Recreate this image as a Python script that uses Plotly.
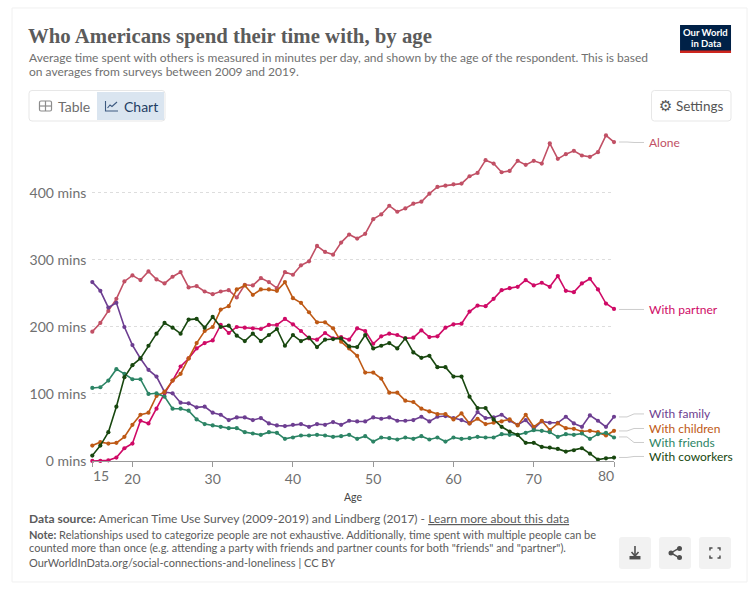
import plotly.graph_objects as go

W = 752
H = 596
STRETCH = 1.0135

ages = list(range(15, 81))
alone = [193, 206, 224, 242, 268, 277, 270, 283, 271, 265,
         275, 282, 259, 261, 253, 249, 253, 255, 244, 263,
         262, 273, 267, 258, 282, 278, 292, 298, 321, 312,
         308, 326, 338, 332, 339, 361, 368, 381, 372, 377,
         384, 387, 399, 409, 411, 413, 414, 425, 430, 449,
         444, 431, 433, 448, 442, 448, 444, 474, 451, 458,
         463, 456, 454, 461, 486, 476]
partner = [0, 0, 1, 5, 19, 26, 60, 56, 78, 101,
           120, 141, 153, 168, 176, 180, 203, 191, 200, 199,
           198, 197, 203, 203, 212, 204, 194, 183, 181, 191,
           183, 185, 181, 198, 194, 175, 186, 190, 188, 183,
           184, 195, 185, 186, 199, 204, 205, 223, 232, 231,
           242, 255, 258, 260, 270, 262, 266, 260, 276, 254,
           252, 265, 272, 256, 235, 227]
family = [267, 254, 229, 236, 200, 173, 153, 136, 126, 103,
          101, 87, 86, 80, 81, 72, 69, 61, 65, 65,
          61, 64, 56, 53, 52, 54, 55, 51, 55, 54,
          58, 54, 60, 59, 59, 65, 63, 65, 60, 60,
          61, 66, 59, 66, 67, 64, 61, 56, 73, 64,
          65, 69, 60, 54, 61, 48, 59, 57, 57, 66,
          56, 51, 68, 60, 51, 66]
children = [23, 28, 26, 27, 36, 54, 69, 72, 97, 103,
            120, 130, 153, 176, 194, 200, 226, 231, 256, 262,
            248, 256, 256, 254, 267, 243, 236, 222, 207, 207,
            198, 178, 168, 157, 132, 132, 123, 102, 102, 90,
            88, 78, 74, 70, 70, 62, 71, 56, 63, 55,
            57, 59, 62, 53, 69, 51, 60, 46, 56, 49,
            48, 44, 45, 43, 38, 45]
friends = [109, 110, 120, 137, 130, 122, 122, 100, 101, 96,
           78, 78, 75, 62, 55, 53, 51, 49, 49, 43,
           41, 39, 43, 42, 33, 35, 38, 38, 39, 38,
           36, 37, 39, 33, 37, 29, 35, 34, 32, 35,
           33, 37, 32, 35, 29, 35, 33, 34, 36, 35,
           35, 40, 39, 39, 42, 46, 45, 43, 36, 40,
           39, 41, 33, 40, 42, 35]
coworkers = [8, 23, 43, 81, 125, 143, 153, 172, 190, 206,
             199, 190, 211, 212, 199, 215, 200, 202, 187, 179,
             190, 179, 188, 197, 172, 188, 179, 184, 170, 181,
             182, 183, 171, 170, 188, 168, 172, 176, 168, 183,
             162, 154, 157, 140, 140, 126, 126, 96, 79, 79,
             62, 51, 44, 39, 27, 27, 21, 20, 18, 14,
             16, 19, 11, 2, 4, 5]

series = [
    ("Alone", alone, "#c15065"),
    ("With partner", partner, "#cf0a66"),
    ("With family", family, "#6d3e91"),
    ("With children", children, "#be5915"),
    ("With friends", friends, "#2c8465"),
    ("With coworkers", coworkers, "#18470f"),
]

y_ticks = [0, 100, 200, 300, 400]
y_labels = ["0 mins", "100 mins", "200 mins", "300 mins", "400 mins"]
x_ticks = [15, 20, 30, 40, 50, 60, 70, 80]
x_labels = ["", "20", "30", "40", "50", "60", "70", ""]

GREY = "#707070"
BODY = "Lato"


# everything outside the plot is placed in page pixels
def px(x):
    return x / W


def py(y):
    return 1 - y * STRETCH / H


def line_path(points):
    return "M " + " L ".join("%.4f %.4f" % (px(x), py(y)) for x, y in points)


def round_box(x0, y0, x1, y1, r=3):
    pts = [(x0 + r, y0), (x1 - r, y0), (x1, y0), (x1, y0 + r), (x1, y1 - r), (x1, y1),
           (x1 - r, y1), (x0 + r, y1), (x0, y1), (x0, y1 - r), (x0, y0 + r), (x0, y0), (x0 + r, y0)]
    p = ["%.4f %.4f" % (px(x), py(y)) for x, y in pts]
    return ("M %s L %s Q %s %s L %s Q %s %s L %s Q %s %s L %s Q %s %s Z"
            % (p[0], p[1], p[2], p[3], p[4], p[5], p[6], p[7], p[8], p[9], p[10], p[11], p[12]))


shapes = []
annotations = []


def add_path(path, color="rgba(0,0,0,0)", line="rgba(0,0,0,0)", width=1):
    shapes.append(dict(type="path", xref="paper", yref="paper", path=path,
                       fillcolor=color, line=dict(color=line, width=width), layer="below"))


def add_text(x, y, text, size, color=GREY, family=BODY, anchor="left"):
    annotations.append(dict(xref="paper", yref="paper", x=px(x), y=py(y), text=text,
                            showarrow=False, xanchor=anchor, yanchor="middle", align=anchor,
                            font=dict(size=size, color=color, family=family),
                            borderpad=0, borderwidth=0))


# outer frame
add_path(line_path([(12, 8), (747, 8), (747, 582), (12, 582)]) + " Z", line="#f0f0f0")

# header
add_text(28, 36, "<b>Who Americans spend their time with, by age</b>", 20.8, "#5b5b5b", "Liberation Serif")
add_text(29, 58, "Average time spent with others is measured in minutes per day, and shown by the age of the respondent. This is based", 12)
add_text(29, 72, "on averages from surveys between 2009 and 2019.", 12)

# logo
add_path(line_path([(680, 25), (731, 25), (731, 53), (680, 53)]) + " Z", color="#002147")
add_path(line_path([(680, 50.5), (731, 50.5), (731, 53), (680, 53)]) + " Z", color="#ce261e")
add_text(705.5, 33, "<b>Our World</b>", 9.5, "#ffffff", anchor="center")
add_text(705.5, 43.5, "<b>in Data</b>", 9.5, "#ffffff", anchor="center")

# table / chart switch
add_path(round_box(29, 90.5, 165, 121), color="#ffffff", line="#e7e7e7")
add_path(line_path([(97, 92), (164, 92), (164, 120), (97, 120)]) + " Z", color="#dae5f0")
add_path(round_box(39.5, 101, 51.5, 111, 1.5), line="#8c8c8c", width=1.2)
add_path(line_path([(39.5, 106), (51.5, 106)]), line="#8c8c8c", width=1.2)
add_path(line_path([(45.5, 101), (45.5, 111)]), line="#8c8c8c", width=1.2)
add_text(58, 106.5, "Table", 14, "#6e6e6e")
add_path(line_path([(105.5, 101), (105.5, 111), (118, 111)]), line="#3d5a80", width=1.1)
add_path(line_path([(107.5, 108), (110, 105), (112, 106.5), (117, 102)]), line="#3d5a80", width=1.1)
add_text(124, 106.5, "Chart", 14, "#1d3d63")

# settings
add_path(round_box(651.5, 90.5, 731, 121), color="#ffffff", line="#e7e7e7")
add_text(665, 106, "⚙", 15, "#555555", "DejaVu Sans", anchor="center")
add_text(676, 106.5, "Settings", 13.5, "#555555")

# footer
add_text(29, 519, "<b>Data source:</b> American Time Use Survey (2009-2019) and Lindberg (2017) - <u>Learn more about this data</u>", 12, "#5b5b5b")
add_text(29, 535, "<b>Note:</b> Relationships used to categorize people are not exhaustive. Additionally, time spent with multiple people can be", 11, "#5b5b5b")
add_text(29, 548, "counted more than once (e.g. attending a party with friends and partner counts for both \"friends\" and \"partner\").", 11, "#5b5b5b")
add_text(29, 563, "OurWorldInData.org/social-connections-and-loneliness | CC BY", 11, "#5b5b5b")
add_text(353, 497, "Age", 10.5, "#444444", anchor="center")

# footer buttons
for left in [619, 659, 699]:
    add_path(round_box(left, 537, left + 32, 569), color="#f2f2f2")
add_path(line_path([(635, 546), (635, 556)]), line="#4f4f4f", width=1.6)
add_path(line_path([(631.5, 552), (635, 556), (638.5, 552)]), line="#4f4f4f", width=1.6)
add_path(line_path([(629.5, 556), (640.5, 556), (640.5, 559.5), (629.5, 559.5)]) + " Z", color="#4f4f4f")
add_path(line_path([(679.5, 548), (671, 553), (679.5, 558)]), line="#4f4f4f", width=1.5)
for cx, cy in [(679.5, 548.5), (671, 553), (679.5, 557.5)]:
    shapes.append(dict(type="circle", xref="paper", yref="paper", layer="below",
                       x0=px(cx - 2.5), x1=px(cx + 2.5), y0=py(cy - 2.5), y1=py(cy + 2.5),
                       fillcolor="#4f4f4f", line=dict(width=0)))
for sx, sy in [(-1, -1), (1, -1), (-1, 1), (1, 1)]:
    cx, cy = 715 + 5 * sx, 553 + 5 * sy
    add_path(line_path([(cx, cy - 2.5 * sy), (cx, cy), (cx - 2.5 * sx, cy)]), line="#4f4f4f", width=1.5)

# connectors and line labels: (label, line end y, label y)
label_rows = [
    ("Alone", 142, 142.5),
    ("With partner", 309.5, 309.5),
    ("With family", 417, 414),
    ("With children", 431, 428.5),
    ("With friends", 437, 442.5),
    ("With coworkers", 457.5, 456.5),
]
colors = dict((name, color) for name, _, color in series)
for name, y0, y1 in label_rows:
    add_path(line_path([(619, y0), (627, y0), (634, y1), (644, y1)]), line="#cccccc", width=1)
    add_text(649, y1, name, 12, colors[name])

# the shifted end labels of the age axis
add_text(101, 476, "15", 14, GREY, anchor="center")
add_text(606, 476, "80", 14, GREY, anchor="center")

fig = go.Figure()
for name, values, color in series:
    fig.add_trace(go.Scatter(
        x=ages,
        y=values,
        name=name,
        mode="lines+markers",
        line=dict(color=color, width=1.6),
        marker=dict(color=color, size=4.2),
        cliponaxis=False,
        hovertemplate="%{y} mins<extra>" + name + "</extra>",
    ))

fig.update_layout(
    width=W,
    height=H,
    margin=dict(l=0, r=0, t=0, b=0),
    paper_bgcolor="#ffffff",
    plot_bgcolor="#ffffff",
    showlegend=False,
    font=dict(family=BODY, color=GREY),
    shapes=shapes,
    annotations=annotations,
    xaxis=dict(
        domain=[px(92.3), px(614)],
        range=[15, 80],
        tickmode="array",
        tickvals=x_ticks,
        ticktext=x_labels,
        ticks="outside",
        ticklen=5,
        tickcolor="#999999",
        tickfont=dict(size=14, color=GREY),
        showgrid=False,
        showline=True,
        linecolor="#999999",
        linewidth=1,
        zeroline=False,
    ),
    yaxis=dict(
        domain=[py(461), py(135)],
        range=[0, 486.6],
        tickmode="array",
        tickvals=y_ticks,
        ticktext=y_labels,
        ticks="",
        ticklabelstandoff=5,
        tickfont=dict(size=14, color=GREY),
        showgrid=True,
        gridcolor="#dddddd",
        griddash="3px,3px",
        gridwidth=1,
        showline=False,
        zeroline=False,
    ),
)

fig.write_html("out.html", config=dict(displayModeBar=False),
               post_script="document.body.style.margin='0';")
